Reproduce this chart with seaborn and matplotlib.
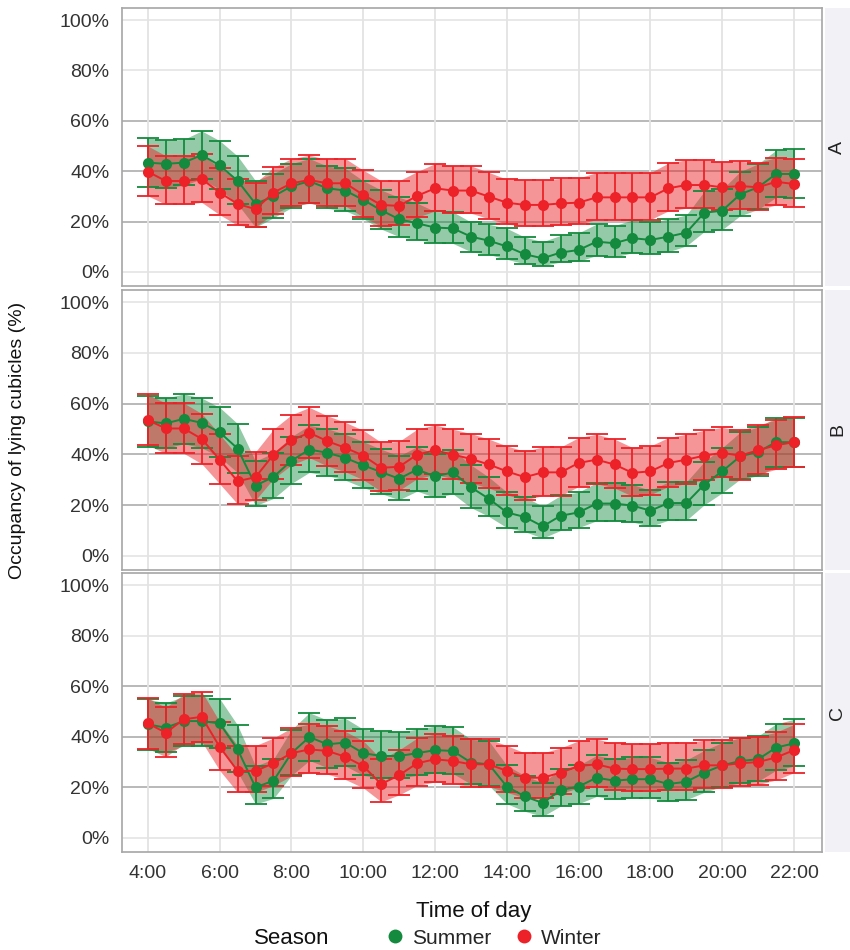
import numpy as np
import pandas as pd
import matplotlib
matplotlib.use("Agg")
import matplotlib.pyplot as plt
import seaborn as sns
from matplotlib.lines import Line2D

sns.set_style("white")
plt.rcParams['font.family'] = ['Liberation Sans', 'DejaVu Sans']

hours = [4.0, 4.5, 5.0, 5.5, 6.0, 6.5, 7.0, 7.5, 8.0, 8.5, 9.0, 9.5, 10.0, 10.5,
         11.0, 11.5, 12.0, 12.5, 13.0, 13.5, 14.0, 14.5, 15.0, 15.5, 16.0, 16.5,
         17.0, 17.5, 18.0, 18.5, 19.0, 19.5, 20.0, 20.5, 21.0, 21.5, 22.0]
xtick_pos = [4, 6, 8, 10, 12, 14, 16, 18, 20, 22]
xtick_labels = ["4:00", "6:00", "8:00", "10:00", "12:00", "14:00", "16:00", "18:00", "20:00", "22:00"]
ytick_pos = [0, 20, 40, 60, 80, 100]
ytick_labels = ["0%", "20%", "40%", "60%", "80%", "100%"]
panels = ["A", "B", "C"]
seasons = ["Summer", "Winter"]

# ---- Panel A ----
summer_A = [43.4, 42.9, 43.4, 46.4, 42.3, 36.2, 27.0, 30.0, 34.0, 36.0, 33.2, 32.3, 28.6, 24.5,
            20.9, 19.3, 17.6, 17.3, 14.0, 12.4, 10.1, 7.0, 5.4, 7.7, 8.7, 12.0,
            11.4, 13.4, 12.7, 14.0, 15.6, 23.5, 24.3, 30.8, 33.6, 38.9, 38.9]
summer_A_hi = [9.8, 9.5, 9.2, 9.6, 9.8, 9.8, 9.2, 9.0, 9.0, 9.0, 8.8, 8.8, 7.6, 8.0,
               8.7, 8.0, 6.4, 6.5, 5.8, 6.5, 7.2, 6.8, 6.6, 6.8, 6.8, 7.0,
               7.0, 7.2, 7.0, 7.0, 7.0, 8.5, 8.5, 9.0, 9.3, 9.4, 9.8]
summer_A_lo = [9.5, 9.5, 9.0, 9.5, 9.5, 9.3, 9.3, 8.5, 8.5, 8.5, 8.0, 8.0, 7.5, 7.5,
               6.9, 6.5, 6.0, 6.0, 6.0, 5.5, 5.1, 3.8, 2.9, 3.8, 4.5, 5.5,
               5.5, 5.8, 5.5, 6.0, 5.3, 7.5, 7.5, 8.5, 8.8, 9.3, 9.4]
winter_A = [39.8, 36.1, 36.1, 36.9, 31.5, 27.0, 24.9, 31.5, 35.2, 36.5, 35.2, 35.2, 30.6, 26.6,
            26.2, 30.2, 33.2, 32.3, 32.3, 29.9, 27.5, 26.6, 26.6, 27.2, 27.5, 29.6,
            29.6, 29.6, 29.6, 33.2, 34.5, 34.5, 33.6, 34.1, 33.6, 35.8, 34.9]
winter_A_hi = [10.2, 10.0, 9.8, 9.8, 9.8, 9.8, 10.5, 10.0, 9.8, 9.8, 9.5, 9.8, 9.8, 9.6,
               10.0, 9.6, 9.8, 9.8, 9.8, 9.6, 9.3, 9.9, 9.9, 9.9, 9.8, 9.8,
               9.8, 9.8, 9.8, 10.0, 10.0, 10.0, 10.0, 9.8, 9.8, 9.6, 9.8]
winter_A_lo = [9.6, 9.3, 9.3, 9.3, 8.8, 8.5, 7.0, 8.5, 9.0, 9.3, 9.0, 9.0, 8.8, 8.5,
               7.5, 8.5, 9.0, 9.0, 9.0, 8.8, 8.5, 8.5, 8.5, 8.5, 8.5, 8.8,
               8.8, 8.8, 8.8, 9.0, 9.2, 9.2, 9.0, 9.0, 9.0, 9.2, 9.0]

# ---- Panel B ----
summer_B = [53.0, 52.2, 54.0, 52.4, 48.7, 42.3, 27.7, 31.1, 37.5, 41.9, 40.6, 38.6, 35.7, 33.0,
            30.4, 34.0, 31.3, 32.9, 27.0, 22.5, 17.1, 15.3, 11.6, 15.8, 17.1, 20.6,
            20.6, 19.8, 17.8, 20.8, 20.8, 28.1, 33.3, 39.2, 41.0, 44.8, 44.8]
summer_B_hi = [10.0, 10.0, 9.8, 9.8, 9.8, 9.8, 9.6, 9.5, 9.5, 9.5, 9.5, 9.3, 9.3, 9.0,
               9.0, 9.0, 9.0, 9.0, 8.8, 8.5, 8.0, 8.0, 7.9, 8.0, 8.0, 8.3,
               8.3, 8.3, 8.0, 8.3, 8.3, 9.0, 9.3, 9.5, 9.7, 9.7, 9.7]
summer_B_lo = [10.0, 9.8, 9.8, 9.8, 9.8, 9.5, 7.9, 8.5, 9.0, 9.0, 9.0, 8.8, 8.8, 8.5,
               8.3, 8.5, 8.3, 8.5, 8.0, 7.0, 6.0, 5.8, 4.6, 5.8, 6.0, 6.8,
               6.8, 6.5, 6.2, 6.8, 6.8, 8.0, 8.5, 9.0, 9.5, 9.7, 9.7]
winter_B = [53.5, 50.2, 50.2, 46.1, 37.9, 29.4, 31.0, 39.9, 45.6, 48.5, 45.2, 42.6, 39.5, 34.7,
            35.1, 39.9, 41.6, 39.9, 38.2, 36.0, 33.3, 31.0, 32.9, 32.9, 36.6, 37.9,
            36.0, 32.7, 33.3, 36.6, 37.9, 39.5, 40.6, 39.5, 41.6, 43.6, 44.8]
winter_B_hi = [10.1, 10.0, 10.0, 10.0, 10.0, 10.0, 10.0, 10.0, 10.0, 10.0, 10.0, 10.0, 10.0, 10.0,
               10.0, 10.0, 10.0, 10.0, 10.0, 10.0, 10.0, 10.2, 10.0, 10.0, 10.0, 10.0,
               10.0, 10.0, 10.0, 10.0, 10.0, 10.0, 10.0, 10.0, 10.0, 10.0, 10.0]
winter_B_lo = [10.0, 9.8, 9.8, 9.8, 9.5, 9.0, 9.0, 9.5, 9.8, 9.8, 9.8, 9.5, 9.5, 9.3,
               9.3, 9.5, 9.5, 9.5, 9.5, 9.3, 9.3, 9.0, 9.2, 9.2, 9.3, 9.5,
               9.3, 9.2, 9.2, 9.3, 9.5, 9.5, 9.5, 9.5, 9.5, 9.5, 9.6]

# ---- Panel C ----
summer_C = [44.9, 43.6, 46.2, 46.2, 45.3, 35.0, 20.0, 22.6, 33.5, 39.9, 37.0, 37.7, 33.5, 32.4,
            32.4, 33.5, 34.7, 34.4, 29.8, 29.1, 20.3, 16.4, 13.8, 18.9, 20.3, 23.8,
            22.6, 23.2, 23.2, 21.3, 22.2, 25.8, 28.7, 30.4, 31.1, 35.7, 37.4]
summer_C_hi = [10.0, 9.8, 9.8, 9.8, 9.8, 9.6, 8.4, 8.6, 9.3, 9.6, 9.6, 9.6, 9.5, 9.8,
               9.5, 9.5, 9.5, 9.5, 9.2, 9.2, 8.4, 8.2, 8.0, 8.3, 8.4, 8.8,
               8.6, 8.6, 8.6, 8.5, 8.6, 8.8, 9.0, 9.2, 9.2, 9.4, 9.5]
summer_C_lo = [10.0, 9.8, 9.8, 9.8, 9.6, 9.0, 6.6, 7.0, 8.8, 9.3, 9.2, 9.2, 8.8, 8.8,
               8.8, 8.8, 9.0, 9.0, 8.5, 8.4, 6.8, 5.9, 5.3, 6.3, 6.8, 7.4,
               7.2, 7.3, 7.3, 6.9, 7.1, 7.8, 8.4, 8.6, 8.7, 9.0, 9.0]
winter_C = [45.3, 41.6, 46.9, 47.9, 36.0, 26.5, 26.5, 29.5, 33.5, 35.0, 34.4, 32.1, 28.4, 21.3,
            24.8, 29.5, 31.1, 30.4, 29.1, 29.1, 26.5, 23.8, 23.8, 25.8, 28.4, 29.1,
            27.4, 27.2, 27.2, 27.4, 27.4, 28.7, 28.7, 29.5, 30.0, 31.8, 34.7]
winter_C_hi = [10.0, 10.0, 10.0, 10.0, 10.0, 10.0, 10.0, 10.0, 10.0, 10.0, 10.0, 10.0, 10.0, 9.8,
               10.0, 10.0, 10.0, 10.0, 10.0, 10.0, 10.0, 9.8, 9.8, 9.8, 10.0, 10.0,
               10.0, 10.0, 10.0, 10.0, 10.0, 10.0, 10.0, 10.0, 10.0, 10.0, 10.2]
winter_C_lo = [10.0, 9.5, 9.8, 9.8, 9.3, 8.5, 8.5, 8.8, 9.0, 9.2, 9.2, 9.0, 8.6, 7.0,
               7.8, 8.8, 9.0, 9.0, 8.8, 8.8, 8.5, 8.0, 8.0, 8.3, 8.6, 8.8,
               8.6, 8.6, 8.6, 8.6, 8.6, 8.8, 8.8, 8.8, 8.9, 8.9, 8.9]

data = {
    "A": {"Summer": (summer_A, summer_A_lo, summer_A_hi), "Winter": (winter_A, winter_A_lo, winter_A_hi)},
    "B": {"Summer": (summer_B, summer_B_lo, summer_B_hi), "Winter": (winter_B, winter_B_lo, winter_B_hi)},
    "C": {"Summer": (summer_C, summer_C_lo, summer_C_hi), "Winter": (winter_C, winter_C_lo, winter_C_hi)},
}

palette = {"Summer": "#138a3d", "Winter": "#ec2228"}
fill_alpha = {"Summer": 0.45, "Winter": 0.48}

W, H = 850, 950
fig = plt.figure(figsize=(W / 100, H / 100), dpi=100)

left_px, right_px = 122, 822
panel_px = [(8, 286), (290, 570), (573, 852)]
strip_l, strip_r = 825, 850

for (top, bot), pname in zip(panel_px, panels):
    ax = fig.add_axes([left_px / W, 1 - bot / H, (right_px - left_px) / W, (bot - top) / H])
    sax = fig.add_axes([strip_l / W, 1 - bot / H, (strip_r - strip_l) / W, (bot - top) / H])
    sax.set_facecolor("#f1f1f6")
    sax.set_xticks([]); sax.set_yticks([])
    for s in sax.spines.values():
        s.set_visible(False)
    sax.text(0.5, 0.5, pname, rotation=90, ha="center", va="center", fontsize=14,
             color="#222222", transform=sax.transAxes)

    rows = []
    for season in seasons:
        vals, lo, hi = data[pname][season]
        for h, v, l, u in zip(hours, vals, lo, hi):
            rows.append({"hour": h, "occ": v, "lo": v - l, "hi": v + u, "Season": season})
    df = pd.DataFrame(rows)

    # grid
    for yv in ytick_pos:
        col = "#b3b3b3" if yv in (20, 40, 60) else "#e6e6e6"
        ax.axhline(yv, color=col, lw=1.3, zorder=0)
    for xv in xtick_pos:
        ax.axvline(xv, color="#e3e3e3", lw=1.3, zorder=0)

    for season in seasons:
        d = df[df.Season == season]
        ax.fill_between(d.hour, d.lo, d.hi, color=palette[season], alpha=fill_alpha[season],
                        lw=0, zorder=1)
    for season in seasons:
        d = df[df.Season == season]
        ax.errorbar(d.hour, d.occ, yerr=[d.occ - d.lo, d.hi - d.occ], fmt="none",
                    ecolor=palette[season], elinewidth=1.3, capsize=8, capthick=1.3, zorder=2)
    sns.lineplot(data=df, x="hour", y="occ", hue="Season", hue_order=seasons, palette=palette,
                 marker="o", markersize=8, markeredgewidth=0, lw=1.4, errorbar=None,
                 legend=False, ax=ax, zorder=3)

    ax.set_xlim(3.28, 22.78)
    ax.set_ylim(-5.6, 104.8)
    ax.set_yticks(ytick_pos)
    ax.set_yticklabels(ytick_labels, fontsize=14, color="#333333")
    ax.set_xticks(xtick_pos)
    if pname == "C":
        ax.set_xticklabels(xtick_labels, fontsize=14, color="#333333")
    else:
        ax.set_xticklabels([])
    ax.tick_params(axis="both", length=5, width=1, color="#a0a0a0", pad=4)
    if pname != "C":
        ax.tick_params(axis="x", length=0)
    ax.set_xlabel(""); ax.set_ylabel("")
    for s in ax.spines.values():
        s.set_color("#a6a6a6")
        s.set_linewidth(1.2)
    ax.grid(False)

fig.text(18 / W, 1 - 440 / H, "Occupancy of lying cubicles (%)", rotation=90,
         ha="center", va="center", fontsize=14, color="#111111")
fig.text(474 / W, 1 - 912 / H, "Time of day", ha="center", va="center", fontsize=16,
         color="#111111")
fig.text(292 / W, 1 - 938 / H, "Season", ha="center", va="center", fontsize=16, color="#111111")
handles = [Line2D([], [], ls="", marker="o", markersize=10, markeredgewidth=0, color=palette[s])
           for s in seasons]
fig.legend(handles, seasons, loc="center", bbox_to_anchor=(492 / W, 1 - 938 / H), ncol=2,
           frameon=False, fontsize=15, handletextpad=0.2, columnspacing=1.0, handlelength=1.2)

fig.savefig("out.png", dpi=100)
